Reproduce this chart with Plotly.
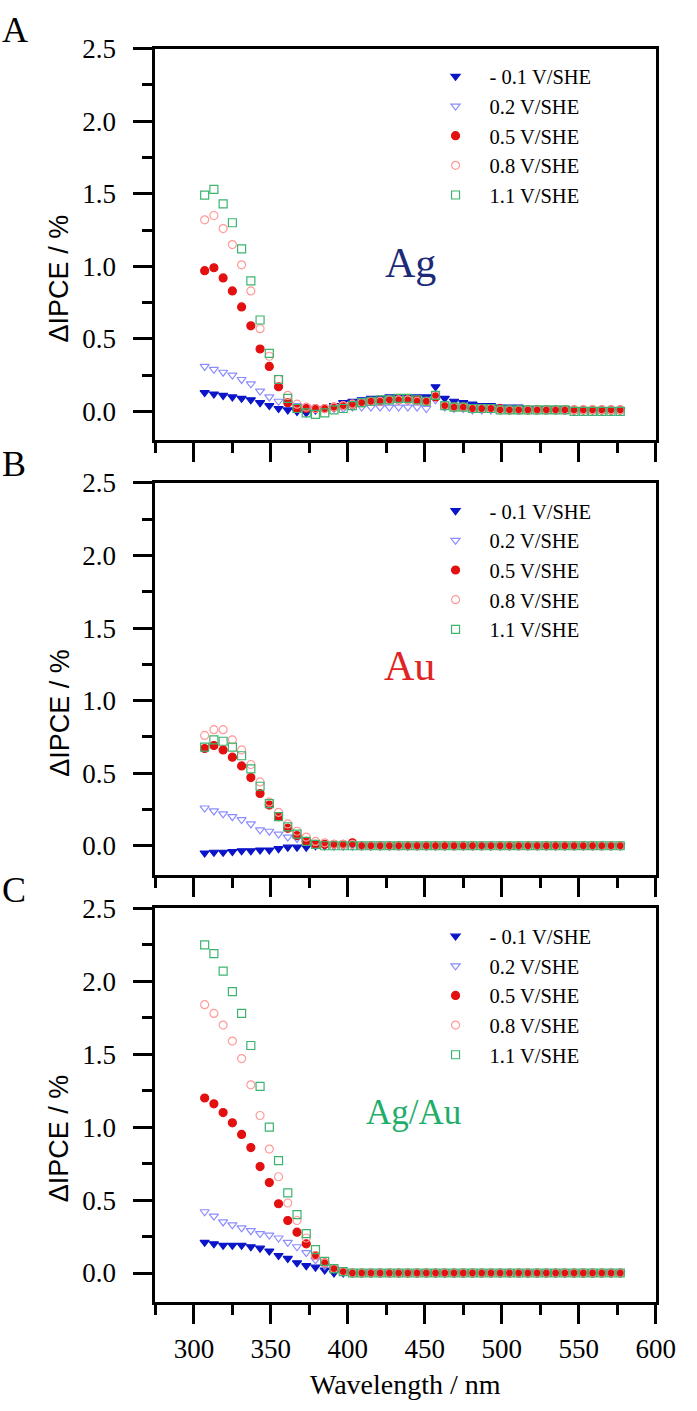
import plotly.graph_objects as go

W, H = 697, 1411

WAVELENGTH = [307, 313, 319, 325, 331, 337, 343, 349, 355, 361,
              367, 373, 379, 385, 391, 397, 403, 409, 415, 421,
              427, 433, 439, 445, 451, 457, 463, 469, 475, 481,
              487, 493, 499, 505, 511, 517, 523, 529, 535, 541,
              547, 553, 559, 565, 571, 577]

SERIES_NAMES = ["- 0.1 V/SHE", "0.2 V/SHE", "0.5 V/SHE", "0.8 V/SHE", "1.1 V/SHE"]

# Panel A (Ag)
A_M01 = [0.13, 0.12, 0.11, 0.10, 0.09, 0.08, 0.06, 0.04, 0.02, 0.01,
         0.00, -0.01, 0.01, 0.02, 0.04, 0.06, 0.07, 0.08, 0.09, 0.09,
         0.10, 0.10, 0.10, 0.10, 0.10, 0.17, 0.09, 0.07, 0.06, 0.05,
         0.04, 0.04, 0.03, 0.03, 0.03, 0.02, 0.02, 0.02, 0.02, 0.02,
         0.01, 0.01, 0.01, 0.01, 0.01, 0.01]
A_02 = [0.31, 0.29, 0.27, 0.25, 0.22, 0.19, 0.14, 0.10, 0.07, 0.06,
        0.04, 0.03, 0.02, 0.02, 0.02, 0.02, 0.03, 0.03, 0.03, 0.03,
        0.03, 0.03, 0.03, 0.03, 0.02, 0.08, 0.03, 0.02, 0.02, 0.01,
        0.01, 0.01, 0.01, 0.01, 0.01, 0.01, 0.01, 0.01, 0.01, 0.01,
        0.01, 0.01, 0.01, 0.01, 0.01, 0.01]
A_05 = [0.97, 0.99, 0.92, 0.83, 0.72, 0.59, 0.43, 0.31, 0.17, 0.06,
        0.02, 0.02, 0.02, 0.02, 0.03, 0.04, 0.05, 0.06, 0.07, 0.07,
        0.08, 0.08, 0.08, 0.08, 0.07, 0.10, 0.04, 0.03, 0.03, 0.02,
        0.02, 0.02, 0.02, 0.01, 0.01, 0.01, 0.01, 0.01, 0.01, 0.01,
        0.01, 0.01, 0.01, 0.01, 0.01, 0.01]
A_08 = [1.32, 1.35, 1.26, 1.15, 1.01, 0.83, 0.57, 0.38, 0.22, 0.11,
        0.05, 0.03, 0.02, 0.02, 0.03, 0.04, 0.05, 0.06, 0.07, 0.07,
        0.08, 0.08, 0.08, 0.07, 0.07, 0.11, 0.04, 0.03, 0.03, 0.02,
        0.02, 0.02, 0.01, 0.01, 0.01, 0.01, 0.01, 0.01, 0.01, 0.01,
        0.01, 0.01, 0.01, 0.01, 0.01, 0.01]
A_11 = [1.49, 1.53, 1.43, 1.30, 1.12, 0.90, 0.63, 0.40, 0.22, 0.09,
        0.02, -0.01, -0.02, -0.01, 0.01, 0.02, 0.04, 0.06, 0.07, 0.08,
        0.08, 0.09, 0.09, 0.08, 0.07, 0.11, 0.04, 0.03, 0.03, 0.02,
        0.02, 0.02, 0.01, 0.01, 0.01, 0.01, 0.01, 0.01, 0.01, 0.01,
        0.00, 0.00, 0.00, 0.00, 0.00, 0.00]

# Panel B (Au)
B_M01 = [-0.05, -0.045, -0.045, -0.04, -0.035, -0.035, -0.03, -0.03, -0.02, -0.01,
         -0.01, -0.01, 0.00, 0.00, 0.00, 0.00, 0.00, 0.00, 0.00, 0.00,
         0.00, 0.00, 0.00, 0.00, 0.00, 0.00, 0.00, 0.00, 0.00, 0.00,
         0.00, 0.00, 0.00, 0.00, 0.00, 0.00, 0.00, 0.00, 0.00, 0.00,
         0.00, 0.00, 0.00, 0.00, 0.00, 0.00]
B_02 = [0.26, 0.24, 0.22, 0.20, 0.18, 0.15, 0.11, 0.10, 0.08, 0.06,
        0.05, 0.03, 0.02, 0.01, 0.00, 0.00, 0.00, 0.00, 0.00, 0.00,
        0.00, 0.00, 0.00, 0.00, 0.00, 0.00, 0.00, 0.00, 0.00, 0.00,
        0.00, 0.00, 0.00, 0.00, 0.00, 0.00, 0.00, 0.00, 0.00, 0.00,
        0.00, 0.00, 0.00, 0.00, 0.00, 0.00]
B_05 = [0.67, 0.69, 0.66, 0.61, 0.55, 0.47, 0.36, 0.28, 0.20, 0.12,
        0.07, 0.03, 0.01, 0.01, 0.01, 0.01, 0.02, 0.00, 0.00, 0.00,
        0.00, 0.00, 0.00, 0.00, 0.00, 0.00, 0.00, 0.00, 0.00, 0.00,
        0.00, 0.00, 0.00, 0.00, 0.00, 0.00, 0.00, 0.00, 0.00, 0.00,
        0.00, 0.00, 0.00, 0.00, 0.00, 0.00]
B_08 = [0.76, 0.80, 0.80, 0.73, 0.66, 0.56, 0.44, 0.30, 0.23, 0.15,
        0.10, 0.06, 0.03, 0.02, 0.01, 0.01, 0.01, 0.00, 0.00, 0.00,
        0.00, 0.00, 0.00, 0.00, 0.00, 0.00, 0.00, 0.00, 0.00, 0.00,
        0.00, 0.00, 0.00, 0.00, 0.00, 0.00, 0.00, 0.00, 0.00, 0.00,
        0.00, 0.00, 0.00, 0.00, 0.00, 0.00]
B_11 = [0.68, 0.73, 0.72, 0.68, 0.62, 0.53, 0.41, 0.29, 0.20, 0.13,
        0.08, 0.03, 0.01, 0.00, 0.00, 0.00, 0.00, 0.00, 0.00, 0.00,
        0.00, 0.00, 0.00, 0.00, 0.00, 0.00, 0.00, 0.00, 0.00, 0.00,
        0.00, 0.00, 0.00, 0.00, 0.00, 0.00, 0.00, 0.00, 0.00, 0.00,
        0.00, 0.00, 0.00, 0.00, 0.00, 0.00]

# Panel C (Ag/Au)
C_M01 = [0.21, 0.20, 0.19, 0.19, 0.19, 0.18, 0.17, 0.15, 0.12, 0.10,
         0.07, 0.05, 0.04, 0.02, 0.00, 0.00, 0.00, 0.00, 0.00, 0.00,
         0.00, 0.00, 0.00, 0.00, 0.00, 0.00, 0.00, 0.00, 0.00, 0.00,
         0.00, 0.00, 0.00, 0.00, 0.00, 0.00, 0.00, 0.00, 0.00, 0.00,
         0.00, 0.00, 0.00, 0.00, 0.00, 0.00]
C_02 = [0.42, 0.39, 0.35, 0.33, 0.31, 0.29, 0.27, 0.26, 0.24, 0.21,
        0.18, 0.14, 0.09, 0.05, 0.03, 0.01, 0.00, 0.00, 0.00, 0.00,
        0.00, 0.00, 0.00, 0.00, 0.00, 0.00, 0.00, 0.00, 0.00, 0.00,
        0.00, 0.00, 0.00, 0.00, 0.00, 0.00, 0.00, 0.00, 0.00, 0.00,
        0.00, 0.00, 0.00, 0.00, 0.00, 0.00]
C_05 = [1.20, 1.16, 1.10, 1.03, 0.95, 0.86, 0.73, 0.62, 0.475, 0.36,
        0.28, 0.20, 0.12, 0.07, 0.03, 0.01, 0.00, 0.00, 0.00, 0.00,
        0.00, 0.00, 0.00, 0.00, 0.00, 0.00, 0.00, 0.00, 0.00, 0.00,
        0.00, 0.00, 0.00, 0.00, 0.00, 0.00, 0.00, 0.00, 0.00, 0.00,
        0.00, 0.00, 0.00, 0.00, 0.00, 0.00]
C_08 = [1.84, 1.78, 1.70, 1.59, 1.47, 1.29, 1.08, 0.85, 0.66, 0.48,
        0.36, 0.24, 0.12, 0.07, 0.03, 0.01, 0.00, 0.00, 0.00, 0.00,
        0.00, 0.00, 0.00, 0.00, 0.00, 0.00, 0.00, 0.00, 0.00, 0.00,
        0.00, 0.00, 0.00, 0.00, 0.00, 0.00, 0.00, 0.00, 0.00, 0.00,
        0.00, 0.00, 0.00, 0.00, 0.00, 0.00]
C_11 = [2.25, 2.19, 2.07, 1.93, 1.78, 1.56, 1.28, 1.00, 0.77, 0.55,
        0.40, 0.27, 0.16, 0.08, 0.03, 0.01, 0.00, 0.00, 0.00, 0.00,
        0.00, 0.00, 0.00, 0.00, 0.00, 0.00, 0.00, 0.00, 0.00, 0.00,
        0.00, 0.00, 0.00, 0.00, 0.00, 0.00, 0.00, 0.00, 0.00, 0.00,
        0.00, 0.00, 0.00, 0.00, 0.00, 0.00]

PANEL_LETTERS = ["A", "B", "C"]
PANEL_LABELS = ["Ag", "Au", "Ag/Au"]
PANEL_SERIES = [[A_M01, A_02, A_05, A_08, A_11],
                [B_M01, B_02, B_05, B_08, B_11],
                [C_M01, C_02, C_05, C_08, C_11]]

# label styling / placement (data coordinates of each panel)
LABEL_STYLE = [
    dict(color="#1c2a78", x=441, y=1.02, size=42),
    dict(color="#e02424", x=440, y=1.24, size=42),
    dict(color="#1fae6a", x=443, y=1.10, size=35),
]

STYLES = [
    dict(symbol="triangle-down", color="#0a14c8"),
    dict(symbol="triangle-down-open", color="#8c8cff"),
    dict(symbol="circle", color="#e31010"),
    dict(symbol="circle-open", color="#ff9a9a"),
    dict(symbol="square-open", color="#3cb46e"),
]

SERIF = "Liberation Serif"
SANS = "Liberation Sans"

# pixel geometry of the three frames (top, bottom)
X_LEFT, X_RIGHT = 160, 675
FRAMES = [(34, 430), (473, 869), (903, 1301)]


def py(px):
    return 1 - px / H


fig = go.Figure()
layout = dict(
    width=W, height=H,
    margin=dict(l=0, r=0, t=0, b=0),
    paper_bgcolor="white", plot_bgcolor="white",
    showlegend=True,
    font=dict(family=SERIF, color="black"),
)
annotations = []

for i in range(3):
    n = "" if i == 0 else str(i + 1)
    xa, ya = "x" + n, "y" + n
    leg = "legend" + n
    for name, ys, st in zip(SERIES_NAMES, PANEL_SERIES[i], STYLES):
        fig.add_trace(go.Scatter(
            x=WAVELENGTH, y=ys, mode="markers", name=name,
            xaxis=xa, yaxis=ya, legend=leg,
            marker=dict(symbol=st["symbol"], color=st["color"], size=8,
                        line=dict(color=st["color"], width=1.2)),
        ))
    top, bot = FRAMES[i]
    layout["xaxis" + n] = dict(
        domain=[X_LEFT / W, X_RIGHT / W], anchor=ya,
        range=[275, 600], tick0=300, dtick=50,
        showline=True, linewidth=3, linecolor="black", mirror=True,
        ticks="outside", ticklen=19, tickwidth=3, tickcolor="black",
        showticklabels=(i == 2), showgrid=False, zeroline=False,
        tickfont=dict(family=SERIF, size=27, color="black"),
        ticklabelstandoff=1,
        minor=dict(ticks="outside", ticklen=10, tickwidth=3, tickcolor="black",
                   tick0=275, dtick=25, showgrid=False),
    )
    layout["yaxis" + n] = dict(
        domain=[py(bot), py(top)], anchor=xa,
        range=[-0.2, 2.5], tick0=0, dtick=0.5, tickformat=".1f",
        showline=True, linewidth=3, linecolor="black", mirror=True,
        ticks="outside", ticklen=19, tickwidth=3, tickcolor="black",
        showgrid=False, zeroline=False,
        tickfont=dict(family=SERIF, size=27, color="black"),
        ticklabelstandoff=12,
        minor=dict(ticks="outside", ticklen=10, tickwidth=3, tickcolor="black",
                   tick0=0, dtick=0.25, showgrid=False),
    )
    layout[leg] = dict(
        x=434 / W, y=py(top + 8), xanchor="left", yanchor="top",
        bgcolor="rgba(0,0,0,0)", borderwidth=0,
        font=dict(family=SERIF, size=20.5, color="black"),
        tracegroupgap=0, itemwidth=58,
    )
    # panel letter
    annotations.append(dict(
        text=PANEL_LETTERS[i], xref="paper", yref="paper", x=0, y=py(top - 19),
        xanchor="left", yanchor="middle", showarrow=False,
        font=dict(family=SERIF, size=36, color="black"),
    ))
    # material label
    ls = LABEL_STYLE[i]
    annotations.append(dict(
        text=PANEL_LABELS[i], xref=xa, yref=ya, x=ls["x"], y=ls["y"],
        xanchor="center", yanchor="middle", showarrow=False,
        font=dict(family=SERIF, size=ls["size"], color=ls["color"]),
    ))
    # y-axis title
    annotations.append(dict(
        text="ΔIPCE / %", xref="paper", yref="paper",
        x=61 / W, y=py(top + 232), textangle=-90,
        xanchor="center", yanchor="middle", showarrow=False,
        font=dict(family=SANS, size=27, color="black"),
    ))

annotations.append(dict(
    text="Wavelength / nm", xref="paper", yref="paper",
    x=(X_LEFT + X_RIGHT) / 2 / W, y=py(1384),
    xanchor="center", yanchor="middle", showarrow=False,
    font=dict(family=SERIF, size=28, color="black"),
))
layout["annotations"] = annotations

fig.update_layout(**layout)
fig.write_html(
    "out.html",
    config={"displayModeBar": False},
    post_script="document.body.style.margin='0';document.body.style.overflow='hidden';",
)
